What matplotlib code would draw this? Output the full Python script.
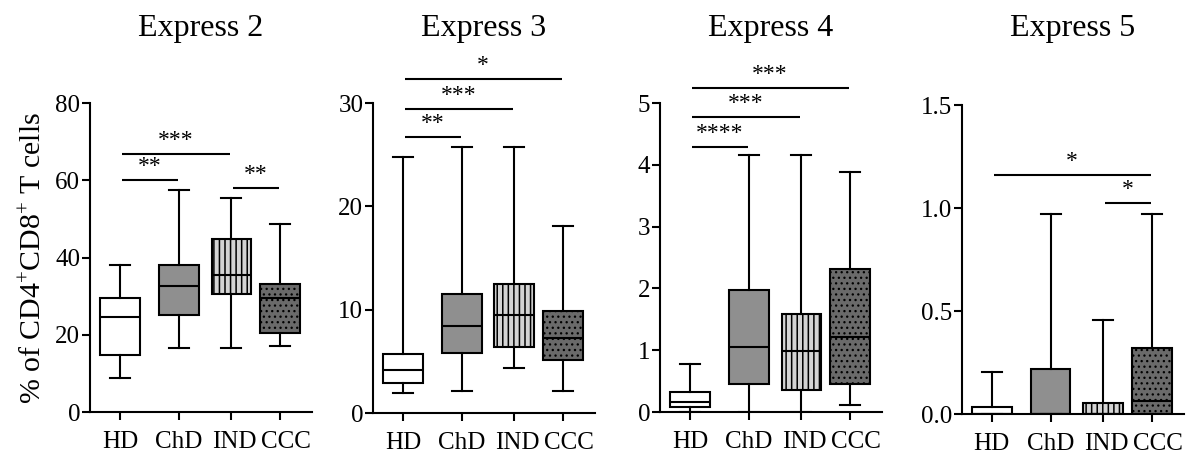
import numpy as np
import matplotlib
matplotlib.use('Agg')
import matplotlib.pyplot as plt
import matplotlib.transforms as mtrans

plt.rcParams['font.family'] = ['Liberation Serif', 'DejaVu Serif']
plt.rcParams['mathtext.fontset'] = 'custom'
plt.rcParams['mathtext.rm'] = 'Liberation Serif'
plt.rcParams['mathtext.it'] = 'Liberation Serif:italic'
plt.rcParams['hatch.linewidth'] = 1.1

groups = ['HD', 'ChD', 'IND', 'CCC']
titles = ['Express 2', 'Express 3', 'Express 4', 'Express 5']

# box stats per panel: [whislo, q1, med, q3, whishi] for HD, ChD, IND, CCC
expr2 = [[8.9, 14.7, 24.7, 29.4, 38.1],
         [16.5, 25.2, 32.7, 38.0, 57.5],
         [16.5, 30.6, 35.4, 44.7, 55.3],
         [17.2, 20.5, 29.5, 33.1, 48.7]]
expr3 = [[1.96, 2.87, 4.16, 5.7, 24.8],
         [2.13, 5.84, 8.45, 11.5, 25.7],
         [4.35, 6.42, 9.48, 12.5, 25.7],
         [2.13, 5.13, 7.26, 9.87, 18.1]]
expr4 = [[0.0, 0.075, 0.16, 0.32, 0.78],
         [0.0, 0.45, 1.06, 1.97, 4.16],
         [0.0, 0.36, 0.98, 1.58, 4.16],
         [0.12, 0.46, 1.21, 2.32, 3.88]]
expr5 = [[0.0, 0.0, 0.0, 0.036, 0.202],
         [0.0, 0.0, 0.0, 0.217, 0.972],
         [0.0, 0.0, 0.0, 0.052, 0.456],
         [0.0, 0.0, 0.063, 0.32, 0.972]]
data = [expr2, expr3, expr4, expr5]

# significance: (group i, group j, bar height, label)
sig2 = [(0, 1, 60.1, '**'), (0, 2, 66.9, '***'), (2, 3, 57.9, '**')]
sig3 = [(0, 1, 26.7, '**'), (0, 2, 29.45, '***'), (0, 3, 32.35, '*')]
sig4 = [(0, 1, 4.29, '****'), (0, 2, 4.78, '***'), (0, 3, 5.24, '***')]
sig5 = [(0, 3, 1.16, '*'), (2, 3, 1.026, '*')]
sigs = [sig2, sig3, sig4, sig5]

ymaxs = [80, 30, 5, 1.5]
yticks = [[0, 20, 40, 60, 80], [0, 10, 20, 30], [0, 1, 2, 3, 4, 5],
          [0.0, 0.5, 1.0, 1.5]]
ytlabels = [['0', '20', '40', '60', '80'], ['0', '10', '20', '30'],
            ['0', '1', '2', '3', '4', '5'], ['0.0', '0.5', '1.0', '1.5']]

# layout
pos = [0, 59, 112, 161]
label_shift = [0, 0, 3, 6]  # px, tick labels pushed right like the original
face = ['white', '#8f8f8f', '#d4d4d4', '#6a6a6a']
hatch = [None, None, '|||', '...']
hatch_lw = [1.1, 1.1, 1.1, 0.9]
axrects = [[0.0751, 0.0945, 0.1852, 0.679],
           [0.3111, 0.0923, 0.1852, 0.6813],
           [0.5505, 0.0945, 0.1852, 0.679],
           [0.8023, 0.0901, 0.1852, 0.679]]

fig = plt.figure(figsize=(11.99, 4.55), dpi=100)
lw = 1.5
for k in range(4):
    ax = fig.add_axes(axrects[k])
    stats = []
    for g, v in zip(groups, data[k]):
        stats.append(dict(label=g, whislo=v[0], q1=v[1], med=v[2], q3=v[3], whishi=v[4]))
    bp = ax.bxp(stats, positions=pos, widths=40, patch_artist=True, showfliers=False,
                boxprops=dict(linewidth=lw, edgecolor='black'),
                medianprops=dict(color='black', linewidth=lw),
                whiskerprops=dict(color='black', linewidth=lw),
                capprops=dict(color='black', linewidth=lw))
    for b, fc, h, hl in zip(bp['boxes'], face, hatch, hatch_lw):
        b.set_facecolor(fc)
        if h:
            b.set_hatch(h)
            if hasattr(b, 'set_hatch_linewidth'):
                b.set_hatch_linewidth(hl)
    ax.set_xlim(-30, 193)
    ax.set_ylim(0, ymaxs[k])
    ax.set_xticks(pos)
    ax.set_xticklabels(groups)
    ax.set_yticks(yticks[k])
    ax.set_yticklabels(ytlabels[k])
    for s in ['top', 'right']:
        ax.spines[s].set_visible(False)
    for s in ['left', 'bottom']:
        ax.spines[s].set_linewidth(lw)
    ax.tick_params(axis='both', labelsize=18, width=lw, length=6)
    ax.tick_params(axis='y', pad=1)
    ax.tick_params(axis='x', pad=8)
    for lab, dx in zip(ax.get_xticklabels(), label_shift):
        lab.set_transform(lab.get_transform() +
                          mtrans.ScaledTranslation(dx / 100, 0, fig.dpi_scale_trans))
    for i, j, h, lab in sigs[k]:
        ax.plot([pos[i] + 2, pos[j] - 1], [h, h], color='black', lw=lw, clip_on=False,
                solid_capstyle='butt')
        ax.text((pos[i] + pos[j]) / 2, h + ymaxs[k] * 0.01, lab, ha='center', va='bottom',
                fontsize=17, clip_on=False)
    r = axrects[k]
    fig.text(r[0] + r[2] / 2, 0.938, titles[k], ha='center', va='center', fontsize=23)
    if k == 0:
        ax.set_ylabel(r'% of CD4$^{+}$CD8$^{+}$ T cells', fontsize=21.5, labelpad=6)

fig.savefig('out.png', dpi=100)
